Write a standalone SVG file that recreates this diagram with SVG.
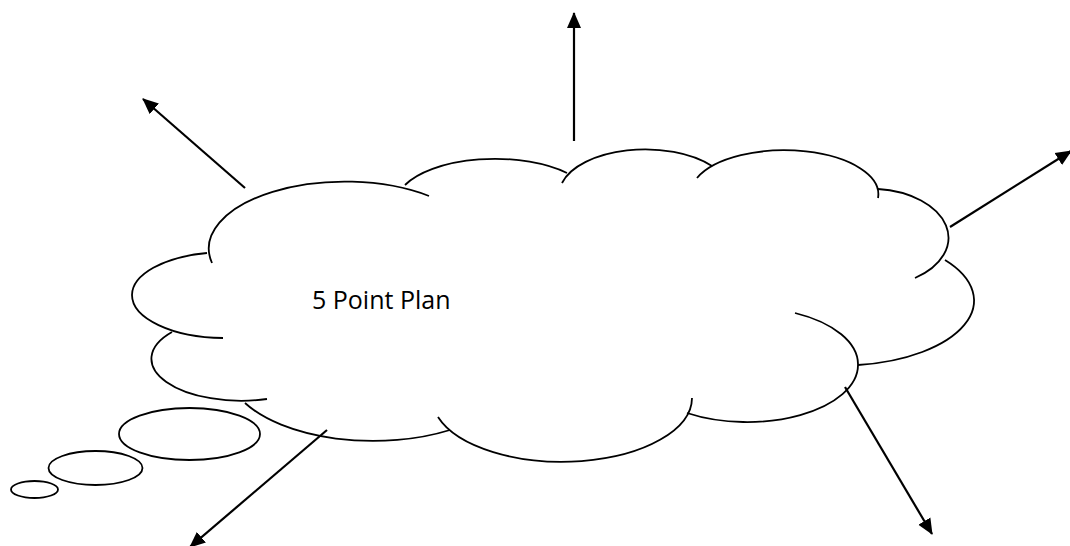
<svg xmlns="http://www.w3.org/2000/svg" width="1070" height="546" viewBox="0 0 1070 546">
  <style>
    .lobe { fill: none; stroke: #000; stroke-width: 1.8; stroke-linecap: butt; }
    .bubble { fill: #fff; stroke: #000; stroke-width: 1.8; }
    .conn { fill: none; stroke: #000; stroke-width: 2.2; }
    .label { font-family: "Open Sans", "Noto Sans", "Liberation Sans", sans-serif; font-size: 25px; fill: #000; }
  </style>
  <defs>
    <marker id="arrow" markerUnits="userSpaceOnUse" markerWidth="16" markerHeight="16" viewBox="0 0 16 16" refX="15" refY="8" orient="auto">
      <path d="M0,1 L16,8 L0,15 z" fill="#000"/>
    </marker>
  </defs>
  <rect x="0" y="0" width="1070" height="546" fill="#fff"/>

  <g id="cloud">
    <path class="lobe" d="M212,263 A136,67 0 0 1 429,196"/>
    <path class="lobe" d="M405,185 A99,45 0 0 1 567,173"/>
    <path class="lobe" d="M562,183 A86,45 0 0 1 712,166"/>
    <path class="lobe" d="M697,178 A94,44 0 0 1 878,198"/>
    <path class="lobe" d="M878,189 A78,49 0 0 1 915,278"/>
    <path class="lobe" d="M945,260 A133,65 0 0 1 858,365"/>
    <path class="lobe" d="M795,313 A111,57 0 0 1 858,365 A111,57 0 0 1 687,413"/>
    <path class="lobe" d="M692,398 A130,64 0 0 1 438,417"/>
    <path class="lobe" d="M450,430 A146,73 0 0 1 245,403"/>
    <path class="lobe" d="M267,399 A90,42 0 0 1 172,332"/>
    <path class="lobe" d="M223,338 A93,43 0 0 1 132,295 A93,43 0 0 1 207,253"/>
    <text class="label" x="312" y="309">5 Point Plan</text>
  </g>

  <g id="thought-bubbles">
    <ellipse id="bubble-large" class="bubble" cx="189.5" cy="434" rx="70.5" ry="26"/>
    <ellipse id="bubble-medium" class="bubble" cx="95.5" cy="468" rx="47" ry="17"/>
    <ellipse id="bubble-small" class="bubble" cx="34.5" cy="489.5" rx="23.5" ry="8.5"/>
  </g>

  <g id="connectors">
    <line class="conn" x1="574" y1="141" x2="574" y2="13" marker-end="url(#arrow)"/>
    <line class="conn" x1="245" y1="188" x2="143" y2="99" marker-end="url(#arrow)"/>
    <line class="conn" x1="950" y1="227" x2="1071" y2="151" marker-end="url(#arrow)"/>
    <line class="conn" x1="845" y1="387" x2="932" y2="534" marker-end="url(#arrow)"/>
    <line class="conn" x1="327" y1="430" x2="190" y2="547" marker-end="url(#arrow)"/>
  </g>
</svg>
